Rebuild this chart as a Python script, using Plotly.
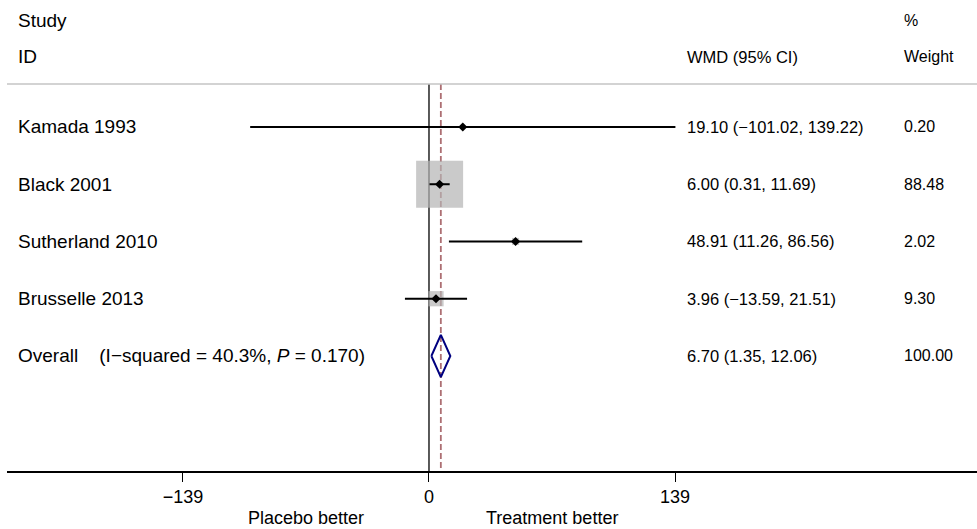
import math
import plotly.graph_objects as go

# ---- data ----
studies = ["Kamada 1993", "Black 2001", "Sutherland 2010", "Brusselle 2013"]
wmd = [19.10, 6.00, 48.91, 3.96]
ci_low = [-101.02, 0.31, 11.26, -13.59]
ci_high = [139.22, 11.69, 86.56, 21.51]
weights = [0.20, 88.48, 2.02, 9.30]

overall_label = "Overall\u00a0\u00a0\u00a0\u00a0(I\u2212squared = 40.3%, <i>P</i> = 0.170)"
overall_wmd = 6.70
overall_low = 1.35
overall_high = 12.06
overall_weight = 100.00

tick_vals = [-139, 0, 139]
tick_text = ["\u2212139", "0", "139"]

def fmt(v):
    s = f"{abs(v):.2f}"
    return ("\u2212" + s) if v < 0 else s

# ---- layout constants ----
FONT = "Liberation Sans, Arial, Helvetica, sans-serif"
X_RANGE = [-238.4, 309.6]
Y_RANGE = [6.009, -2.218]          # row index units, reversed
LABEL_X = -233.3
WMD_X = 144.6
WEIGHT_X = 267.2
HEADER_LINE_Y = -0.751
MAX_BOX = 47.0

fig = go.Figure()

rows = list(range(len(studies)))
overall_row = len(studies)

# weight boxes
maxw = max(weights)
fig.add_trace(go.Scatter(
    x=wmd, y=rows, mode="markers",
    marker=dict(symbol="square", color="#b3b3b3",
                size=[MAX_BOX * math.sqrt(w / maxw) for w in weights],
                line=dict(width=0)),
    hoverinfo="skip", showlegend=False))

# confidence intervals
cx, cy = [], []
for r, lo, hi in zip(rows, ci_low, ci_high):
    cx += [lo, hi, None]
    cy += [r, r, None]
fig.add_trace(go.Scatter(x=cx, y=cy, mode="lines",
                         line=dict(color="black", width=2),
                         hoverinfo="skip", showlegend=False))

# point estimates
fig.add_trace(go.Scatter(x=wmd, y=rows, mode="markers",
                         marker=dict(symbol="diamond", color="black", size=7),
                         hoverinfo="skip", showlegend=False))

# overall diamond
h = 0.37
fig.add_trace(go.Scatter(
    x=[overall_low, overall_wmd, overall_high, overall_wmd, overall_low],
    y=[overall_row, overall_row - h, overall_row, overall_row + h, overall_row],
    mode="lines", line=dict(color="#000080", width=2),
    hoverinfo="skip", showlegend=False))

# reference lines
fig.add_shape(type="line", x0=0, x1=0, y0=HEADER_LINE_Y, y1=Y_RANGE[0],
              xref="x", yref="y", line=dict(color="black", width=1.3), layer="below")
fig.add_shape(type="line", x0=overall_wmd, x1=overall_wmd, y0=HEADER_LINE_Y, y1=Y_RANGE[0],
              xref="x", yref="y", line=dict(color="#ad6f73", width=1.8, dash="6px,3px"),
              layer="below")
fig.add_shape(type="line", x0=0, x1=1, y0=HEADER_LINE_Y, y1=HEADER_LINE_Y,
              xref="paper", yref="y", line=dict(color="#c4c4c4", width=1.3))

ann = []
def txt(x, y, s, size, anchor="left", yref="y", xref="x"):
    ann.append(dict(x=x, y=y, text=s, xref=xref, yref=yref, showarrow=False,
                    xanchor=anchor, yanchor="middle",
                    font=dict(family=FONT, size=size, color="black")))

# headers
txt(LABEL_X, -1.852, "Study", 19)
txt(LABEL_X, -1.223, "ID", 19)
txt(WMD_X, -1.223, "WMD (95% CI)", 16.5)
txt(WEIGHT_X, -1.852, "%", 16)
txt(WEIGHT_X, -1.223, "Weight", 16)

# study rows
for r, name, e, lo, hi, w in zip(rows, studies, wmd, ci_low, ci_high, weights):
    txt(LABEL_X, r, name, 19)
    txt(WMD_X, r, f"{fmt(e)} ({fmt(lo)}, {fmt(hi)})", 16.5)
    txt(WEIGHT_X, r, f"{w:.2f}", 16)

txt(LABEL_X, overall_row, overall_label, 19)
txt(WMD_X, overall_row, f"{fmt(overall_wmd)} ({fmt(overall_low)}, {fmt(overall_high)})", 16.5)
txt(WEIGHT_X, overall_row, f"{overall_weight:.2f}", 16)

# axis side captions
for xv, s in [(-69.5, "Placebo better"), (69.5, "Treatment better")]:
    ann.append(dict(x=xv, y=0, xref="x", yref="paper", yshift=-47, showarrow=False,
                    xanchor="center", yanchor="middle", text=s,
                    font=dict(family=FONT, size=18, color="black")))

fig.update_layout(
    width=977, height=529,
    margin=dict(l=7, r=0, t=0, b=58),
    paper_bgcolor="white", plot_bgcolor="white",
    annotations=ann,
    xaxis=dict(range=X_RANGE, showgrid=False, zeroline=False,
               showline=True, linecolor="black", linewidth=1.5,
               ticks="outside", ticklen=9, tickwidth=1.3, tickcolor="black",
               tickvals=tick_vals, ticktext=tick_text,
               tickfont=dict(family=FONT, size=18, color="black")),
    yaxis=dict(range=Y_RANGE, visible=False, showgrid=False, zeroline=False),
    showlegend=False,
)

fig.write_html("out.html", config={"displayModeBar": False},
               post_script="document.body.style.margin='0';document.body.style.overflow='hidden';")
